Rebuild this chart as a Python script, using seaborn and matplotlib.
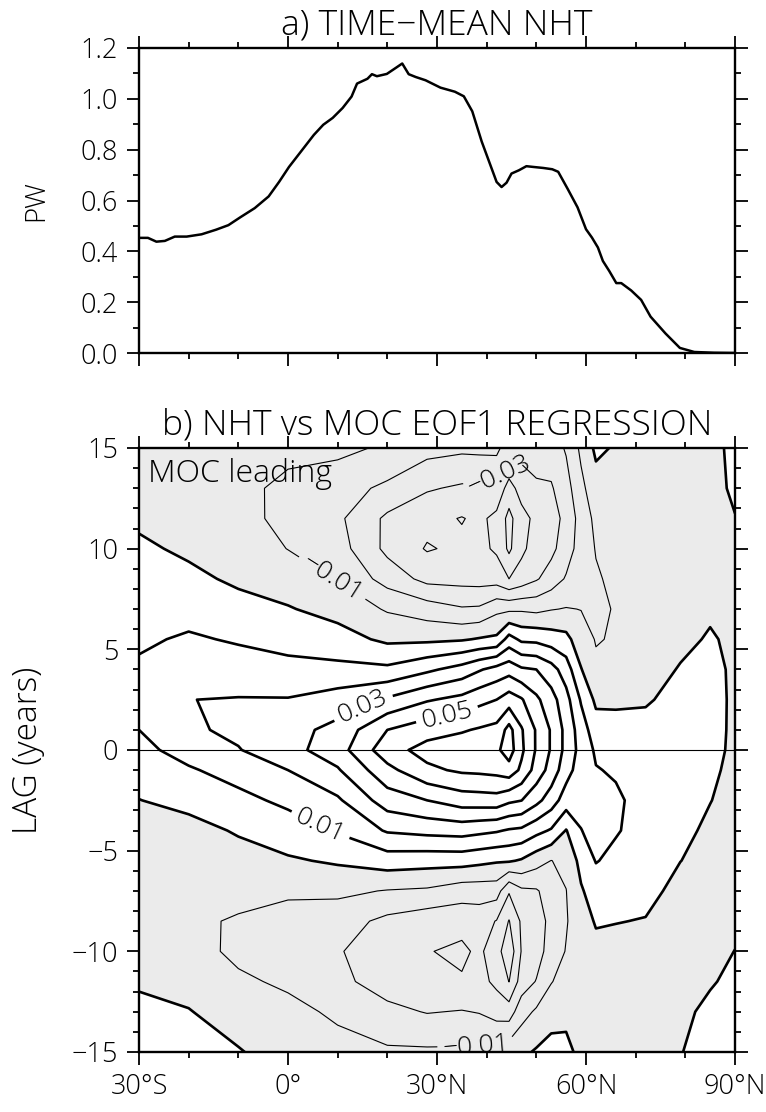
import numpy as np
import matplotlib
matplotlib.use("Agg")
import matplotlib.pyplot as plt
import seaborn as sns
import pandas as pd
from matplotlib.ticker import MultipleLocator
from matplotlib import font_manager

# ---------------- panel a: time-mean northward heat transport (PW) ----------------
nht_lat = [-30, -28.2, -26.5, -24.8, -22.8, -20.4, -17.4, -14.5, -12, -9.6, -6.7, -3.9,
           -1.8, 0.2, 2.7, 5.2, 7.1, 9.0, 11, 12.8, 13.9, 16, 16.9, 17.9, 19.9, 21.8, 23,
           24.3, 25.7, 27.7, 30.7, 33.6, 35.4, 37.1, 39, 41, 42, 43, 44, 45, 46.5, 48,
           49.4, 51.4, 53.2, 54.4, 56.3, 58.3, 60, 61.2, 62.4, 63.4, 64.7, 66.1, 67.1,
           69.1, 71.1, 73, 76, 78.9, 81.8, 85.8, 90]
nht_pw = [0.453, 0.453, 0.438, 0.441, 0.458, 0.458, 0.467, 0.485, 0.503, 0.534, 0.57, 0.616,
          0.673, 0.732, 0.795, 0.858, 0.898, 0.925, 0.964, 1.009, 1.06, 1.079, 1.097, 1.089,
          1.098, 1.123, 1.139, 1.097, 1.086, 1.073, 1.044, 1.028, 1.01, 0.951, 0.832, 0.726,
          0.673, 0.653, 0.670, 0.706, 0.719, 0.735, 0.732, 0.728, 0.723, 0.713, 0.646, 0.573,
          0.487, 0.454, 0.415, 0.362, 0.322, 0.275, 0.275, 0.246, 0.209, 0.143, 0.077, 0.02,
          0.004, 0.001, 0.0]

# ---------------- panel b: regression of NHT on MOC EOF1 (PW per unit) ----------------
lag_nodes = [15, 13, 11.5, 10, 8.5, 7, 5.5, 4, 2.5, 1, 0, -1, -2.5, -4, -5.5, -7, -8.5,
             -10, -11.5, -13, -15]
lat_nodes = [-30, -20, -10, 0, 10, 20, 28, 35, 38.5, 42, 44.5, 47, 50, 53, 56, 59, 62, 66,
             72, 79, 85, 90]

reg_30S = [-0.006, -0.0045, -0.0015, 0.0015, 0.004, 0.006, 0.0085, 0.0115, 0.013, 0.010, 0.0075,
           0.0045, -0.0002, -0.0035, -0.0055, -0.0065, -0.006, -0.004, -0.001, 0.002, 0.004]
reg_20S = [-0.007, -0.0065, -0.004, -0.0015, 0.002, 0.0065, 0.0112, 0.0155, 0.0199, 0.0185, 0.0135,
           0.009, 0.003, -0.0035, -0.007, -0.009, -0.0085, -0.0065, -0.003, 0.0004, 0.003]
reg_10S = [-0.006, -0.008, -0.0075, -0.005, -0.0015, 0.003, 0.009, 0.0145, 0.0205, 0.022, 0.0195,
           0.0135, 0.0075, 0.001, -0.004, -0.0075, -0.0108, -0.012, -0.0085, -0.004, 0.0006]
reg_EQ = [-0.008, -0.0118, -0.0122, -0.0102, -0.005, 0.0007, 0.0065, 0.013, 0.0205, 0.0265, 0.0265,
          0.02, 0.012, 0.0055, -0.0012, -0.0085, -0.0135, -0.016, -0.0115, -0.0075, -0.004]
reg_10N = [-0.0075, -0.016, -0.018, -0.0155, -0.0105, -0.0035, 0.004, 0.0125, 0.0245, 0.033, 0.0355,
           0.029, 0.0185, 0.011, 0.0013, -0.008, -0.0155, -0.019, -0.0175, -0.0115, -0.007]
reg_20N = [-0.0115, -0.022, -0.032, -0.0325, -0.024, -0.011, -0.002, 0.012, 0.0315, 0.05, 0.056,
           0.047, 0.035, 0.021, 0.005, -0.0105, -0.0225, -0.027, -0.0245, -0.0175, -0.0085]
reg_28N = [-0.0165, -0.029, -0.037, -0.0408, -0.033, -0.015, -0.002, 0.018, 0.039, 0.056, 0.0635,
           0.058, 0.04, 0.023, 0.004, -0.0115, -0.026, -0.0295, -0.028, -0.0205, -0.0085]
reg_35N = [-0.018, -0.0315, -0.0405, -0.038, -0.0335, -0.019, -0.001, 0.024, 0.043, 0.059, 0.066,
           0.0615, 0.045, 0.024, 0.004, -0.0155, -0.0265, -0.032, -0.029, -0.0195, -0.0085]
reg_38N = [-0.0175, -0.032, -0.038, -0.0375, -0.034, -0.0185, 0.0008, 0.029, 0.047, 0.061, 0.067,
           0.062, 0.0455, 0.0225, 0.0025, -0.0155, -0.0255, -0.028, -0.0265, -0.0205, -0.0085]
reg_42N = [-0.017, -0.033, -0.0425, -0.0415, -0.0345, -0.0125, 0.002, 0.0335, 0.05, 0.063, 0.068,
           0.063, 0.046, 0.021, 0.001, -0.0155, -0.0305, -0.036, -0.0325, -0.0235, -0.0085]
reg_44N = [-0.027, -0.044, -0.053, -0.052, -0.040, -0.012, 0.014, 0.036, 0.055, 0.0735, 0.075,
           0.066, 0.042, 0.019, 0.001, -0.029, -0.0405, -0.047, -0.0402, -0.025, -0.004]
reg_47N = [-0.026, -0.036, -0.0435, -0.042, -0.036, -0.0115, 0.008, 0.0315, 0.051, 0.061, 0.062,
           0.058, 0.0402, 0.018, -0.001, -0.022, -0.0285, -0.0295, -0.0255, -0.014, -0.002]
reg_50N = [-0.024, -0.032, -0.0375, -0.036, -0.031, -0.0125, 0.0075, 0.03, 0.042, 0.049, 0.049,
           0.046, 0.033, 0.013, -0.006, -0.021, -0.025, -0.0245, -0.0195, -0.0085, 0.001]
reg_53N = [-0.025, -0.031, -0.0345, -0.0325, -0.0255, -0.0105, 0.005, 0.024, 0.034, 0.039, 0.039,
           0.036, 0.025, 0.009, -0.0102, -0.0155, -0.017, -0.0155, -0.0105, -0.0035, 0.003]
reg_56N = [-0.019, -0.024, -0.027, -0.025, -0.019, -0.0095, 0.003, 0.015, 0.0235, 0.027, 0.027,
           0.024, 0.015, -0.0005, -0.0075, -0.0102, -0.0108, -0.0095, -0.006, -0.002, 0.002]
reg_59N = [-0.008, -0.0125, -0.016, -0.0155, -0.0135, -0.0102, -0.006, 0.0005, 0.009, 0.015, 0.0165,
           0.015, 0.0125, 0.0098, 0.003, -0.001, -0.004, -0.0055, -0.0055, -0.0045, -0.002]
reg_62N = [0.002, -0.004, -0.0075, -0.0095, -0.011, -0.0115, -0.0105, -0.0085, -0.002, 0.0045, 0.0085,
           0.0105, 0.0125, 0.0125, 0.0105, 0.0045, 0.0008, -0.0025, -0.0045, -0.0055, -0.005]
reg_66N = [-0.001, -0.003, -0.005, -0.0065, -0.008, -0.0095, -0.0093, -0.0065, -0.0015, 0.003, 0.0065,
           0.009, 0.0115, 0.0108, 0.0075, 0.0045, 0.0003, -0.003, -0.0045, -0.005, -0.005]
reg_72N = [-0.004, -0.005, -0.006, -0.0065, -0.007, -0.007, -0.0065, -0.0045, -0.001, 0.003, 0.005,
           0.006, 0.0065, 0.0062, 0.005, 0.0025, -0.0004, -0.003, -0.0045, -0.0045, -0.004]
reg_79N = [-0.004, -0.0045, -0.005, -0.0055, -0.0055, -0.005, -0.0025, 0.0007, 0.003, 0.0045, 0.005,
           0.0045, 0.0035, 0.002, 0.0001, -0.0025, -0.0035, -0.0035, -0.0025, -0.0015, -0.0003]
reg_85N = [-0.0025, -0.003, -0.0035, -0.0035, -0.003, -0.0015, 0.001, 0.0025, 0.003, 0.0028, 0.0023,
           0.0015, 0.0002, -0.0015, -0.0025, -0.003, -0.003, -0.002, -0.0006, 0.0015, 0.003]
reg_90N = [0.002, 0.0015, -0.0003, -0.0015, -0.002, -0.0025, -0.002, -0.0015, -0.0015, -0.0015, -0.0015,
           -0.002, -0.0025, -0.003, -0.003, -0.0025, -0.0015, 0.0001, 0.0015, 0.003, 0.005]

reg_columns = [reg_30S, reg_20S, reg_10S, reg_EQ, reg_10N, reg_20N, reg_28N, reg_35N, reg_38N,
               reg_42N, reg_44N, reg_47N, reg_50N, reg_53N, reg_56N, reg_59N, reg_62N, reg_66N,
               reg_72N, reg_79N, reg_85N, reg_90N]

neg_levels = [-0.05, -0.04, -0.03, -0.02, -0.01]
pos_levels = [0.0, 0.01, 0.02, 0.03, 0.04, 0.05, 0.06, 0.07]
# contour labels: level -> approximate place (lat, lag) where the label sits
label_spots = {0.03: [(15, 2.2)], 0.05: [(32, 1.8)], 0.01: [(6.6, -3.7)],
               -0.01: [(8.8, 8.5), (38, -14.6)], -0.03: [(42.8, 13.6)]}

lat_ticks = [-30, 0, 30, 60, 90]
lat_ticklabels = ["30°S", "0°", "30°N", "60°N", "90°N"]
pw_ticks = [0.0, 0.2, 0.4, 0.6, 0.8, 1.0, 1.2]
pw_ticklabels = ["0.0", "0.2", "0.4", "0.6", "0.8", "1.0", "1.2"]
lag_ticks = [-15, -10, -5, 0, 5, 10, 15]
lag_ticklabels = ["\u221215", "\u221210", "\u22125", "0", "5", "10", "15"]

# ---------------- style ----------------
sns.set_theme(style="ticks")

def _wnum(w):
    if isinstance(w, (int, float)):
        return int(w)
    return font_manager.weight_dict.get(str(w).lower(), 400)

entries = font_manager.fontManager.ttflist
family, weight = None, "normal"
for cand in ["Open Sans", "Lato", "Roboto", "Inter", "Noto Sans"]:
    if any(f.name == cand and 250 <= _wnum(f.weight) <= 350 for f in entries):
        family, weight = cand, "light"
        break
if family is None:
    names = {f.name for f in entries}
    family = "Liberation Sans" if "Liberation Sans" in names else "DejaVu Sans"

plt.rcParams["font.family"] = [family, "DejaVu Sans"]
plt.rcParams["font.weight"] = weight
plt.rcParams["text.color"] = "black"
plt.rcParams["axes.labelcolor"] = "black"
plt.rcParams["xtick.color"] = "black"
plt.rcParams["ytick.color"] = "black"
plt.rcParams["axes.labelweight"] = weight
plt.rcParams["contour.negative_linestyle"] = "solid"

W, H = 766, 1112
fig = plt.figure(figsize=(W / 100, H / 100), dpi=100)
fig.patch.set_facecolor("white")
ax1 = fig.add_axes([139 / W, 1 - 353 / H, 596 / W, 305 / H])
ax2 = fig.add_axes([139 / W, 1 - 1052 / H, 596 / W, 604 / H])

TICK_FS = 19.5

def style_axes(ax):
    ax.set_facecolor("white")
    for s in ax.spines.values():
        s.set_linewidth(1.7)
        s.set_color("black")
        s.set_visible(True)
    ax.tick_params(which="both", direction="out", top=True, right=True, bottom=True, left=True,
                   width=1.3, colors="black", labelcolor="black", labelsize=TICK_FS, pad=6)
    ax.tick_params(which="major", length=9)
    ax.tick_params(which="minor", length=4.5)
    ax.set_xlim(-30, 90)
    ax.set_xticks(lat_ticks)
    ax.xaxis.set_minor_locator(MultipleLocator(10))
    ax.grid(False)

# ---------------- panel a ----------------
df_a = pd.DataFrame({"lat": nht_lat, "pw": nht_pw})
sns.lineplot(data=df_a, x="lat", y="pw", ax=ax1, color="black", linewidth=1.8)
style_axes(ax1)
ax1.set_ylim(0, 1.2)
ax1.set_yticks(pw_ticks, labels=pw_ticklabels)
ax1.yaxis.set_minor_locator(MultipleLocator(0.1))
ax1.tick_params(labelbottom=False)
ax1.set_xlabel("")
ax1.set_ylabel("PW", fontsize=20, color="black")
ax1.yaxis.set_label_coords((50 - 139) / 596, 0.5)
ax1.text(0.5, 1 + 14 / 305, "a) TIME\u2212MEAN NHT", transform=ax1.transAxes,
         ha="center", va="baseline", fontsize=25.5, color="black")

# ---------------- panel b ----------------
Z = np.column_stack(reg_columns)[::-1, :]
lags_sorted = np.array(lag_nodes, dtype=float)[::-1]
X, Y = np.meshgrid(np.array(lat_nodes, dtype=float), lags_sorted)

ax2.contourf(X, Y, Z, levels=[-1.0, 0.0], colors=["#ebebeb"])
fmt = lambda v: f"{v:.2f}".replace("-", "\u2212")
for lv in neg_levels + pos_levels:
    lw = 0.8 if lv < 0 else 1.9
    cs = ax2.contour(X, Y, Z, levels=[lv], colors="black", linewidths=lw, linestyles="solid")
    if lv in label_spots:
        ax2.clabel(cs, manual=label_spots[lv], fmt=fmt, fontsize=19, inline=True,
                   inline_spacing=6, colors="black")
ax2.axhline(0, color="black", linewidth=0.8)

style_axes(ax2)
ax2.set_ylim(-15, 15)
ax2.set_yticks(lag_ticks, labels=lag_ticklabels)
ax2.yaxis.set_minor_locator(MultipleLocator(1))
ax2.set_xticks(lat_ticks, labels=lat_ticklabels)
ax2.set_ylabel("LAG (years)", fontsize=24, color="black")
ax2.yaxis.set_label_coords((45 - 139) / 596, 0.5)
ax2.text(0.5, 1 + 14 / 604, "b) NHT vs MOC EOF1 REGRESSION", transform=ax2.transAxes,
         ha="center", va="baseline", fontsize=25.5, color="black")
ax2.text((148 - 139) / 596, (1052 - 482) / 604, "MOC leading", transform=ax2.transAxes,
         ha="left", va="baseline", fontsize=23, color="black")

fig.savefig("out.png", dpi=100, facecolor="white")
